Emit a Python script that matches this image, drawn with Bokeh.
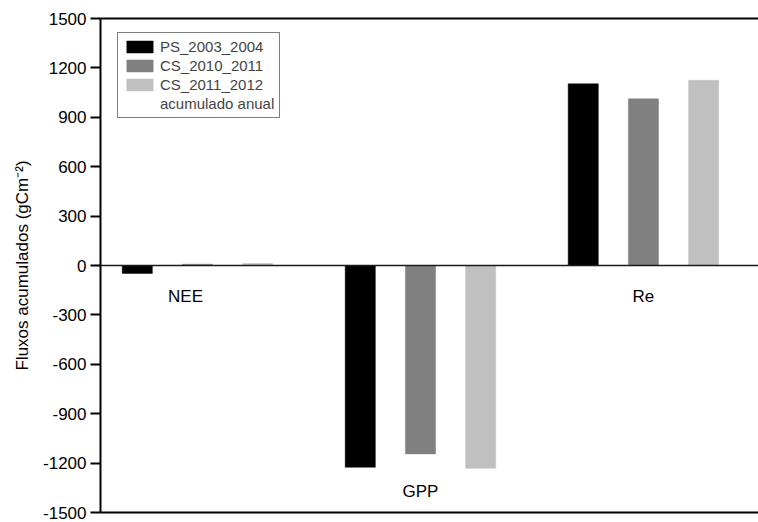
from bokeh.plotting import figure
from bokeh.models import (ColumnDataSource, Range1d, LinearAxis, FixedTicker, Span,
                          Legend, LegendItem, Label)
from bokeh.embed import file_html
from bokeh.resources import INLINE

# ---- data ----
categories = ["NEE", "GPP", "Re"]
series_names = ["PS_2003_2004", "CS_2010_2011", "CS_2011_2012"]
ps_2003_2004 = [-48, -1225, 1103]
cs_2010_2011 = [8, -1144, 1012]
cs_2011_2012 = [12, -1231, 1125]
y_ticks = [-1500, -1200, -900, -600, -300, 0, 300, 600, 900, 1200, 1500]
extra_label = "acumulado anual"

series_values = [ps_2003_2004, cs_2010_2011, cs_2011_2012]
colors = ["#000000", "#808080", "#c0c0c0"]
offsets = [-0.27, 0.0, 0.27]
bar_w = 0.135
FONT = "Liberation Sans"

p = figure(frame_width=658, frame_height=494,
           output_backend="svg", toolbar_location=None,
           x_range=Range1d(0.565, 3.516), y_range=Range1d(-1500, 1500),
           min_border_left=100, min_border_right=0, min_border_top=18, min_border_bottom=10,
           x_axis_location=None, y_axis_location=None)
p.outline_line_color = None
p.xgrid.visible = False
p.ygrid.visible = False
p.background_fill_color = "white"
p.border_fill_color = "white"

renderers = []
for name, vals, col, off in zip(series_names, series_values, colors, offsets):
    src = ColumnDataSource(dict(x=[i + 1 + off for i in range(len(categories))], top=vals))
    r = p.vbar(x="x", top="top", bottom=0, width=bar_w, source=src,
               fill_color=col, line_color=col, line_width=0.5)
    renderers.append(r)

empty = p.vbar(x=[], top=[], width=bar_w, fill_alpha=0, line_alpha=0)

p.add_layout(Span(location=0, dimension="width", line_color="#1a1a1a", line_width=1.6))

# category labels inside plot
mins = [min(v) for v in zip(*series_values)]
for i, cat in enumerate(categories):
    ly = mins[i] - 140 if mins[i] < -200 else -190
    xoff = -12 if i == 0 else 0
    p.add_layout(Label(x=i + 1, y=ly, text=cat, text_align="center", text_baseline="middle",
                       x_offset=xoff, text_font=FONT, text_font_size="17px", text_color="black"))

# y axis
yax = LinearAxis(ticker=FixedTicker(ticks=y_ticks),
                 axis_label="Fluxos acumulados (gCm\u207b\u00b2)")
yax.major_label_overrides = {t: str(t) for t in y_ticks}
yax.axis_line_width = 2
yax.major_tick_line_width = 2
yax.major_tick_out = 10
yax.major_tick_in = 0
yax.minor_tick_out = 0
yax.minor_tick_in = 0
yax.major_label_standoff = 4
yax.major_label_text_font = FONT
yax.major_label_text_font_size = "17px"
yax.major_label_text_color = "black"
yax.axis_label_text_font = FONT
yax.axis_label_text_font_size = "17px"
yax.axis_label_text_font_style = "normal"
yax.axis_label_text_color = "black"
yax.axis_label_standoff = 8
p.add_layout(yax, "left")

# bottom and top frame lines
for loc in ["below", "above"]:
    ax = LinearAxis(ticker=FixedTicker(ticks=[]))
    ax.axis_line_width = 2
    ax.major_tick_out = 0
    ax.major_tick_in = 0
    ax.minor_tick_out = 0
    ax.minor_tick_in = 0
    ax.major_label_text_font_size = "0px"
    ax.major_label_standoff = 0
    p.add_layout(ax, loc)

items = [LegendItem(label=n, renderers=[r]) for n, r in zip(series_names, renderers)]
items.append(LegendItem(label=extra_label, renderers=[empty]))
leg = Legend(items=items, location=(17, 394))
leg.border_line_color = "black"
leg.border_line_width = 1
leg.background_fill_alpha = 1
leg.label_text_font = FONT
leg.label_text_font_size = "15px"
leg.glyph_width = 33
leg.glyph_height = 15
leg.label_height = 15
leg.spacing = 2
leg.padding = 5
leg.margin = 0
leg.label_standoff = 4
p.add_layout(leg, "center")

open("out.html", "w").write(file_html(p, INLINE))
